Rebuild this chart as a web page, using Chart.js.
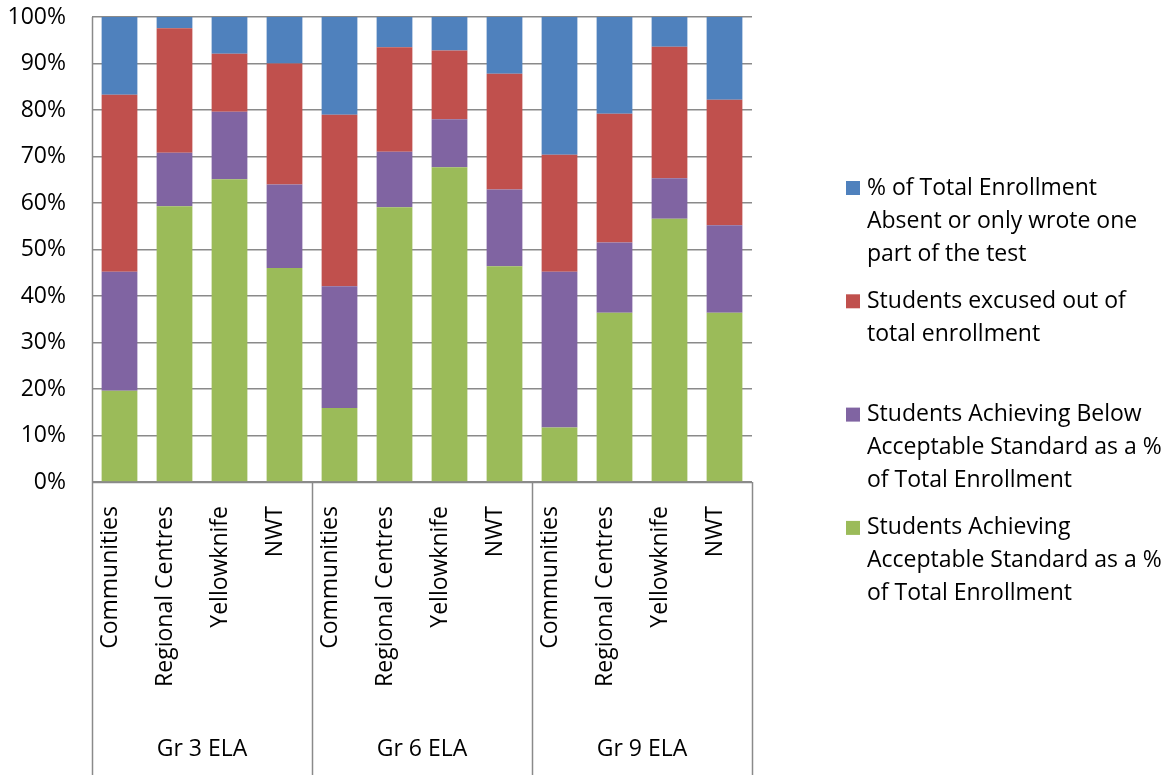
<!DOCTYPE html>
<html>
<head>
<meta charset="utf-8">
<script src="https://cdn.jsdelivr.net/npm/chart.js@4/dist/chart.umd.min.js"></script>
<style>
  body { margin: 0; background: #fff; }
  #wrap { width: 1173px; height: 775px; }
</style>
</head>
<body>
<div id="wrap"><canvas id="chart" width="1173" height="775"></canvas></div>
<script>
// categories
var regions = ['Communities', 'Regional Centres', 'Yellowknife', 'NWT'];
var groups = ['Gr 3 ELA', 'Gr 6 ELA', 'Gr 9 ELA'];
var labels = [];
groups.forEach(g => regions.forEach(r => labels.push(r)));

// series values (% of total enrollment)
var achieving = [19.6, 59.3, 65.1, 46.0, 15.9, 59.1, 67.7, 46.4, 11.7, 36.4, 56.6, 36.4];
var below     = [25.6, 11.5, 14.5, 18.0, 26.2, 11.9, 10.3, 16.5, 33.5, 15.1, 8.7, 18.8];
var excused   = [38.1, 26.8, 12.5, 26.0, 36.9, 22.5, 14.8, 24.9, 25.2, 27.7, 28.3, 27.0];
var absent    = [16.7, 2.4, 7.9, 10.0, 21.0, 6.5, 7.2, 12.2, 29.6, 20.8, 6.4, 17.8];

// legend text, one array of lines per series
var achievingLabel = ['Students Achieving', 'Acceptable Standard as a %', 'of Total Enrollment'];
var belowLabel = ['Students Achieving Below', 'Acceptable Standard as a %', 'of Total Enrollment'];
var excusedLabel = ['Students excused out of', 'total enrollment'];
var absentLabel = ['% of Total Enrollment', 'Absent or only wrote one', 'part of the test'];

var FONT = '"Open Sans", "DejaVu Sans", sans-serif';
var FONT_SIZE = 23;
var AXIS_GRAY = '#8a8a8a';

// draws the grouped category axis and the legend on the right
var extrasPlugin = {
  id: 'extras',
  afterDraw: function(chart) {
    var ctx = chart.ctx;
    var area = chart.chartArea;
    var x = chart.scales.x;
    var bottom = chart.height;
    ctx.save();
    ctx.strokeStyle = AXIS_GRAY;
    ctx.lineWidth = 1.5;

    // group dividers below plot
    var edges = [area.left];
    for (var g = 1; g < groups.length; g++) {
      var i = g * regions.length;
      edges.push((x.getPixelForTick(i - 1) + x.getPixelForTick(i)) / 2);
    }
    edges.push(area.right);
    edges.forEach(function(px, k) {
      ctx.beginPath();
      var top = (k === 0) ? area.top : area.bottom;
      ctx.moveTo(Math.round(px) + 0.5, top);
      ctx.lineTo(Math.round(px) + 0.5, bottom);
      ctx.stroke();
    });
    // x axis line
    ctx.beginPath();
    ctx.moveTo(area.left, area.bottom + 0.5);
    ctx.lineTo(area.right, area.bottom + 0.5);
    ctx.stroke();

    // group labels
    ctx.fillStyle = '#000';
    ctx.font = FONT_SIZE + 'px ' + FONT;
    ctx.textAlign = 'center';
    ctx.textBaseline = 'middle';
    groups.forEach(function(name, k) {
      ctx.fillText(name, (edges[k] + edges[k + 1]) / 2, 749);
    });

    // legend, reversed so the top of the stack is listed first
    var items = chart.data.datasets.slice().reverse();
    ctx.textAlign = 'left';
    items.forEach(function(ds, k) {
      var y0 = 188 + k * 113.3;
      ctx.fillStyle = ds.backgroundColor;
      ctx.fillRect(846, y0 - 7, 14, 14);
      ctx.fillStyle = '#000';
      ds.legendLines.forEach(function(line, j) {
        ctx.fillText(line, 867, y0 + j * 33);
      });
    });
    ctx.restore();
  }
};

var ctx = document.getElementById('chart');
var config = {
  type: 'bar',
  data: {
    labels: labels,
    datasets: [
      { label: achievingLabel.join(' '), legendLines: achievingLabel, data: achieving, backgroundColor: '#9BBB59' },
      { label: belowLabel.join(' '), legendLines: belowLabel, data: below, backgroundColor: '#8064A2' },
      { label: excusedLabel.join(' '), legendLines: excusedLabel, data: excused, backgroundColor: '#C0504D' },
      { label: absentLabel.join(' '), legendLines: absentLabel, data: absent, backgroundColor: '#4F81BD' }
    ]
  },
  options: {
    responsive: false,
    animation: false,
    devicePixelRatio: 1,
    layout: { padding: { top: 17, right: 421, left: 0, bottom: 0 } },
    datasets: {
      bar: { categoryPercentage: 1, barPercentage: 0.65, borderWidth: 0 }
    },
    plugins: {
      legend: { display: false },
      tooltip: { enabled: false }
    },
    scales: {
      x: {
        stacked: true,
        grid: { display: false, drawTicks: false },
        border: { display: false },
        ticks: {
          minRotation: 90,
          maxRotation: 90,
          padding: 24,
          labelOffset: -9,
          color: '#000',
          font: { family: FONT, size: FONT_SIZE }
        },
        afterFit: function(scale) {
          scale.height = 293;
          scale.paddingLeft = 0;
          scale.paddingRight = 0;
          scale.paddingTop = 0;
          scale.paddingBottom = 0;
        }
      },
      y: {
        stacked: true,
        min: 0,
        max: 100,
        grid: { color: AXIS_GRAY, lineWidth: 1.5, drawTicks: false },
        border: { display: false },
        ticks: {
          stepSize: 10,
          padding: 26,
          color: '#000',
          font: { family: FONT, size: FONT_SIZE },
          callback: function(v) { return v + '%'; }
        },
        afterFit: function(scale) {
          scale.width = 92;
          scale.paddingTop = 0;
          scale.paddingBottom = 0;
        }
      }
    }
  },
  plugins: [extrasPlugin]
};

var myChart = new Chart(ctx, config);
</script>
</body>
</html>
